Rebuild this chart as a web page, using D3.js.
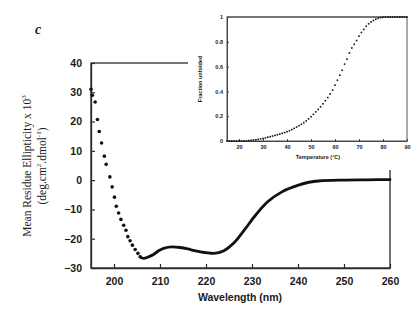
<!DOCTYPE html>
<html><head><meta charset="utf-8">
<script src="https://cdn.jsdelivr.net/npm/d3@7"></script>
<style>body{margin:0;background:#fff}svg{display:block}</style>
</head><body>
<svg id="c" width="420" height="326"></svg>
<script>
// Main CD spectrum: sparse dots (short wavelength)
const dotWavelength = [195.0,195.3,195.9,196.4,196.8,197.3,197.9,198.3,199.1,199.6,200.1,200.5,201.0,201.5,202.1,202.6,203.0,203.5,204.0,204.6,205.2,205.7];
const dotEllipticity = [31.0,29.0,26.7,20.7,16.6,12.7,8.2,5.4,1.1,-2.3,-5.8,-8.9,-11.2,-13.4,-15.4,-17.1,-19.3,-20.7,-22.2,-23.7,-25.0,-26.2];
// Main CD spectrum: dense trace
const lineWavelength = [205.7,206.4,207.5,208.6,209.7,210.8,212.6,214.4,216.6,218.8,221.7,223.9,226.1,228.3,230.5,233.4,236.5,240.1,244.4,249.6,255.0,260.0];
const lineEllipticity = [-26.2,-26.7,-26.2,-25.4,-24.1,-23.3,-22.8,-23.0,-23.7,-24.5,-25.0,-24.1,-21.4,-17.1,-12.5,-7.4,-4.0,-1.7,-0.3,0.0,0.1,0.2];
const mainXTicks = [200,210,220,230,240,250,260];
const mainYTicks = [-30,-20,-10,0,10,20,30,40];
// Inset: thermal unfolding
const temperature = d3.range(15,91,1);
const fractionUnfolded = [0,0,0,0,0,0,0,0,0,0.004,
 0.005,0.008,0.01,0.013,0.017,0.02,0.025,0.03,0.035,0.04,
 0.045,0.05,0.055,0.062,0.068,0.075,0.083,0.092,0.102,0.113,
 0.124,0.135,0.148,0.162,0.178,0.196,0.215,0.235,0.255,0.276,
 0.3,0.325,0.35,0.38,0.41,0.45,0.49,0.53,0.57,0.62,
 0.66,0.71,0.75,0.78,0.81,0.845,0.875,0.9,0.925,0.945,
 0.96,0.972,0.982,0.99,0.995,0.998,1,1,1,1,
 1,1,1,1,1,1];
const insetXTicks = [20,30,40,50,60,70,80,90];
const insetYTicks = [0,0.2,0.4,0.6,0.8,1];
const insetYLabels = ["0","0.2","0.4","0.6","0.8","1"];

const svg = d3.select("#c");
const ink = "#1a1a1a";

// ---------- main chart ----------
const x = d3.scaleLinear().domain([195,260]).range([91,390]);
const y = d3.scaleLinear().domain([-30,40]).range([268,63]);

const g = svg.append("g");
g.append("rect").attr("x",x(195)).attr("y",y(40)).attr("width",x(260)-x(195)).attr("height",y(-30)-y(40))
 .attr("fill","none").attr("stroke","#2a2a2a").attr("stroke-width",1.3);

const xAxis = g.append("g").attr("transform",`translate(0,${y(-30)})`)
 .call(d3.axisBottom(x).tickValues(mainXTicks).tickSizeInner(-4).tickSizeOuter(0).tickPadding(10));
const yAxis = g.append("g").attr("transform",`translate(${x(195)},0)`)
 .call(d3.axisLeft(y).tickValues(mainYTicks).tickSizeInner(-4).tickSizeOuter(0).tickPadding(9));
[xAxis,yAxis].forEach(a=>{
  a.select(".domain").attr("stroke","#2a2a2a").attr("stroke-width",1.3);
  a.selectAll(".tick line").attr("stroke","#2a2a2a").attr("stroke-width",1.2);
  a.selectAll(".tick text").attr("font-family","Liberation Sans, Arial, sans-serif")
    .attr("font-size",10.5).attr("font-weight","bold").attr("fill",ink);
});

g.append("path")
 .datum(lineWavelength.map((w,i)=>[w,lineEllipticity[i]]))
 .attr("d",d3.line().x(d=>x(d[0])).y(d=>y(d[1])).curve(d3.curveMonotoneX))
 .attr("fill","none").attr("stroke","#111").attr("stroke-width",2.8).attr("stroke-linejoin","round").attr("stroke-linecap","round");

g.selectAll("circle.dot").data(dotWavelength).join("circle")
 .attr("class","dot").attr("cx",d=>x(d)).attr("cy",(d,i)=>y(dotEllipticity[i])).attr("r",1.8).attr("fill","#111");

g.append("text").attr("x",240).attr("y",301).attr("text-anchor","middle")
 .attr("font-family","Liberation Sans, Arial, sans-serif").attr("font-weight","bold").attr("font-size",10.5).attr("fill",ink)
 .text("Wavelength  (nm)");

const yl = g.append("text").attr("transform","translate(31,166) rotate(-90)").attr("text-anchor","middle")
 .attr("font-family","Liberation Serif, Times New Roman, serif").attr("font-size",11.5).attr("fill",ink);
yl.append("tspan").attr("x",0).attr("y",0).text("Mean Residue Ellipticity x 10");
yl.append("tspan").attr("font-size",7).attr("dy",-5).text("3");
const yl2 = g.append("text").attr("transform","translate(46,166) rotate(-90)").attr("text-anchor","middle")
 .attr("font-family","Liberation Serif, Times New Roman, serif").attr("font-size",11.5).attr("fill",ink);
yl2.append("tspan").text("(deg.cm");
yl2.append("tspan").attr("font-size",7).attr("dy",-5).text("2");
yl2.append("tspan").attr("dy",5).text(".dmol");
yl2.append("tspan").attr("font-size",7).attr("dy",-5).text("-1");
yl2.append("tspan").attr("dy",5).text(")");

svg.append("text").attr("x",38).attr("y",34).attr("text-anchor","middle")
 .attr("font-family","Liberation Serif, Times New Roman, serif").attr("font-style","italic").attr("font-weight","bold")
 .attr("font-size",14).attr("fill",ink).text("c");

// ---------- inset ----------
svg.append("rect").attr("x",188).attr("y",0).attr("width",232).attr("height",170).attr("fill","#fff");

const xi = d3.scaleLinear().domain([15,90]).range([227,407]);
const yi = d3.scaleLinear().domain([0,1]).range([141,17]);
const ig = svg.append("g");
ig.append("rect").attr("x",xi(15)).attr("y",yi(1)).attr("width",xi(90)-xi(15)).attr("height",yi(0)-yi(1))
 .attr("fill","none").attr("stroke","#555").attr("stroke-width",1);
ig.append("line").attr("x1",xi(15)).attr("x2",xi(90)).attr("y1",yi(1)).attr("y2",yi(1))
 .attr("stroke","#666").attr("stroke-width",1.6);
const ixa = ig.append("g").attr("transform",`translate(0,${yi(0)})`)
 .call(d3.axisBottom(xi).tickValues(insetXTicks).tickSizeInner(-2).tickSizeOuter(0).tickPadding(4));
const iya = ig.append("g").attr("transform",`translate(${xi(15)},0)`)
 .call(d3.axisLeft(yi).tickValues(insetYTicks).tickFormat((d,i)=>insetYLabels[i]).tickSizeInner(-2).tickSizeOuter(0).tickPadding(4));
[ixa,iya].forEach(a=>{
  a.select(".domain").attr("stroke","#444").attr("stroke-width",1);
  a.selectAll(".tick line").attr("stroke","#444");
  a.selectAll(".tick text").attr("font-family","Liberation Sans, Arial, sans-serif")
    .attr("font-size",5.5).attr("font-weight","bold").attr("fill",ink);
});
ig.selectAll("rect.pt").data(temperature).join("rect").attr("class","pt")
 .attr("x",d=>xi(d)-0.8).attr("y",(d,i)=>yi(fractionUnfolded[i])-0.8).attr("width",1.6).attr("height",1.6).attr("fill","#111");
ig.append("text").attr("x",318).attr("y",159).attr("text-anchor","middle")
 .attr("font-family","Liberation Sans, Arial, sans-serif").attr("font-weight","bold").attr("font-size",5.5).attr("fill",ink)
 .text("Temperature (°C)");
ig.append("text").attr("transform","translate(202,79) rotate(-90)").attr("text-anchor","middle")
 .attr("font-family","Liberation Sans, Arial, sans-serif").attr("font-weight","bold").attr("font-size",5.5).attr("fill",ink)
 .text("Fraction unfolded");
</script>
</body></html>
